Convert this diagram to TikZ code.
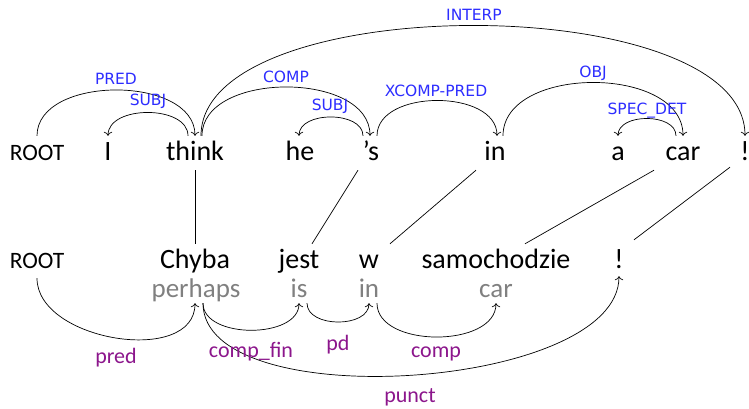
\documentclass[tikz,border=0pt]{standalone}
\usepackage{fontspec}
\setmainfont{Carlito}
\newfontfamily\lblfont{DejaVu Sans}
\usetikzlibrary{arrows.meta}
\definecolor{lblblue}{RGB}{45,45,255}
\definecolor{lblpurple}{RGB}{140,22,140}
\definecolor{glossgray}{RGB}{128,128,128}
\begin{document}
\begin{tikzpicture}[x=1pt,y=-1pt,
  word/.style={inner sep=0pt, anchor=base, text height=24pt, text depth=10pt, font=\fontsize{28}{30}\selectfont},
  rootw/.style={word, font=\fontsize{23.5}{25}\selectfont},
  gloss/.style={inner sep=0pt, anchor=base, text height=14pt, text depth=6pt, text=glossgray, font=\fontsize{27}{29}\selectfont},
  uplbl/.style={inner sep=0pt, anchor=base, text=lblblue, font=\lblfont\fontsize{15.5}{17}\selectfont},
  dnlbl/.style={inner sep=0pt, anchor=base, text=lblpurple, font=\fontsize{22}{24}\selectfont},
  arc/.style={draw, line width=0.7pt, -{To[scale=1.3]}},
  link/.style={draw, line width=0.7pt}
]
\path[use as bounding box] (0,0) rectangle (749,409);
% top row
\node[rootw] (troot) at (37,160) {ROOT};
\node[word] (tI) at (108,160) {I};
\node[word] (tthink) at (195,160) {think};
\node[word] (the) at (300,160) {he};
\node[word] (ts) at (371,160) {’s};
\node[word] (tin) at (495,160) {in};
\node[word] (ta) at (618,160) {a};
\node[word] (tcar) at (683,160) {car};
\node[word] (texcl) at (745,160) {!};
% bottom row
\node[rootw] (broot) at (37,268) {ROOT};
\node[word] (bchyba) at (195,268) {Chyba};
\node[word] (bjest) at (299,268) {jest};
\node[word] (bw) at (369,268) {w};
\node[word] (bsamo) at (496,268) {samochodzie};
\node[word] (bexcl) at (619,268) {!};
% glosses
\node[gloss] (gperhaps) at (196,297) {perhaps};
\node[gloss] (gis) at (299,297) {is};
\node[gloss] (gin) at (369,297) {in};
\node[gloss] (gcar) at (496,297) {car};
% top arcs
\draw[arc] (troot.north) .. controls +(0,-61) and +(0,-61) .. (tthink.north);
\draw[arc] ([xshift=-7pt]tthink.north) .. controls +(0,-31) and +(0,-31) .. (tI.north);
\draw[arc] ([xshift=7pt]tthink.north) .. controls +(0,-65) and +(0,-65) .. ([xshift=-1pt]ts.north);
\draw[arc] ([xshift=6pt]tthink.north) .. controls +(0,-147) and +(0,-147) .. (texcl.north);
\draw[arc] ([xshift=-8pt]ts.north) .. controls +(0,-25) and +(0,-25) .. ([xshift=-1pt]the.north);
\draw[arc] ([xshift=6pt]ts.north) .. controls +(0,-47) and +(0,-47) .. ([xshift=2pt]tin.north);
\draw[arc] ([xshift=8pt]tin.north) .. controls +(0,-71) and +(0,-71) .. (tcar.north);
\draw[arc] ([xshift=-7pt]tcar.north) .. controls +(0,-23) and +(0,-23) .. (ta.north);
% top labels
\node[uplbl] (lpred) at (116,85) {PRED};
\node[uplbl] (lsubj1) at (148,106) {SUBJ};
\node[uplbl] (lcomp) at (286,83) {COMP};
\node[uplbl] (linterp) at (474,21) {INTERP};
\node[uplbl] (lsubj2) at (330,111) {SUBJ};
\node[uplbl] (lxcomp) at (436,97) {XCOMP-PRED};
\node[uplbl] (lobj) at (593,78) {OBJ};
\node[uplbl] (lspec) at (647,114) {SPEC\_DET};
% alignment links
\draw[link] (tthink.south) -- (bchyba.north);
\draw[link] ([xshift=-13pt]ts.south) -- ([xshift=13pt]bjest.north);
\draw[link] ([xshift=-19pt]tin.south) -- ([xshift=21pt]bw.north);
\draw[link] ([xshift=-29pt]tcar.south) -- ([xshift=29pt]bsamo.north);
\draw[link] ([xshift=-15pt,yshift=3pt]texcl.south) -- ([xshift=15pt,yshift=4pt]bexcl.north);
% bottom arcs
\draw[arc] (broot.south) .. controls +(0,63) and +(0,63) .. ([xshift=-1pt]gperhaps.south);
\draw[arc] ([xshift=7pt]gperhaps.south) .. controls +(0,36) and +(0,36) .. (gis.south);
\draw[arc] ([xshift=8pt]gis.south) .. controls +(0,25) and +(0,25) .. (gin.south);
\draw[arc] ([xshift=8pt]gin.south) .. controls +(0,45) and +(0,45) .. (gcar.south);
\draw[arc] ([xshift=7pt]gperhaps.south) .. controls +(0,114) and +(0,114) .. ([yshift=2pt]bexcl.south);
% bottom labels
\node[dnlbl] (lbpred) at (116,363) {pred};
\node[dnlbl] (lbcompfin) at (251,357) {comp\_fin};
\node[dnlbl] (lbpd) at (338,350) {pd};
\node[dnlbl] (lbcomp) at (436,357) {comp};
\node[dnlbl] (lbpunct) at (410,402) {punct};
\end{tikzpicture}
\end{document}
